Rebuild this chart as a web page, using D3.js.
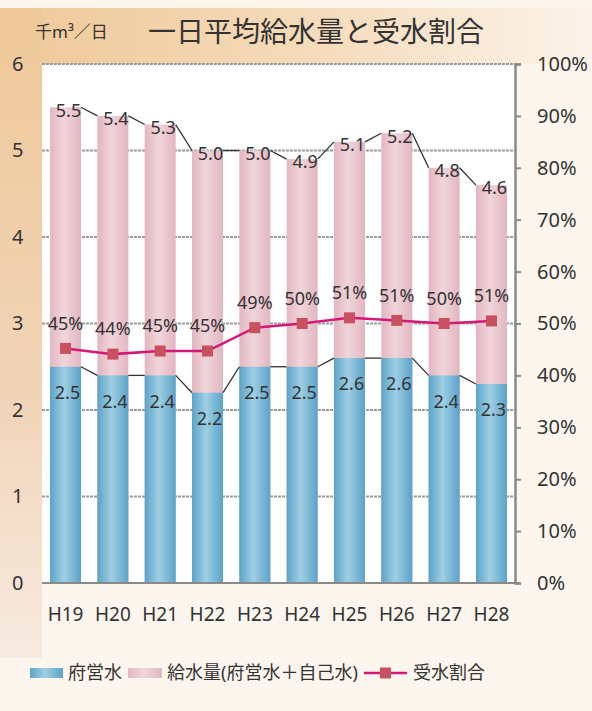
<!DOCTYPE html>
<html>
<head>
<meta charset="utf-8">
<script src="https://cdn.jsdelivr.net/npm/d3@7"></script>
<style>
  body { margin: 0; background: #fcf6ee; }
  text { font-family: 'Noto Sans', 'Noto Sans CJK JP', sans-serif; fill: #333; }
</style>
</head>
<body>
<div id="chart"></div>
<script>
const years = ['H19', 'H20', 'H21', 'H22', 'H23', 'H24', 'H25', 'H26', 'H27', 'H28']
const totalSupply = [5.5, 5.4, 5.3, 5.0, 5.0, 4.9, 5.1, 5.2, 4.8, 4.6]
const prefWater = [2.5, 2.4, 2.4, 2.2, 2.5, 2.5, 2.6, 2.6, 2.4, 2.3]
const ratio = [45.2, 44.1, 44.7, 44.7, 49.2, 50.0, 51.1, 50.6, 50.0, 50.5]
const leftTicks = [0, 1, 2, 3, 4, 5, 6]
const rightTicks = [0, 10, 20, 30, 40, 50, 60, 70, 80, 90, 100]

const W = 592
const H = 711
const margin = { top: 64, left: 42, right: 77, bottom: 128 }
const width = W - margin.left - margin.right
const height = H - margin.top - margin.bottom

const svg = d3
  .select('#chart')
  .append('svg')
  .attr('width', W)
  .attr('height', H)

const defs = svg.append('defs')

function hGrad(id, edge, mid) {
  const g = defs.append('linearGradient').attr('id', id)
    .attr('x1', 0).attr('x2', 1).attr('y1', 0).attr('y2', 0)
  g.append('stop').attr('offset', '0%').attr('stop-color', edge)
  g.append('stop').attr('offset', '45%').attr('stop-color', mid)
  g.append('stop').attr('offset', '100%').attr('stop-color', edge)
}
hGrad('blue', '#5ba3c9', '#9fcfe3')
hGrad('pink', '#e2b6c1', '#f1d5db')

const topBg = defs.append('linearGradient').attr('id', 'topbg')
  .attr('x1', 0).attr('x2', 1).attr('y1', 0).attr('y2', 0)
topBg.append('stop').attr('offset', '0%').attr('stop-color', '#efc898')
topBg.append('stop').attr('offset', '55%').attr('stop-color', '#f5dcbc')
topBg.append('stop').attr('offset', '100%').attr('stop-color', '#fcf3ea')

const leftBg = defs.append('linearGradient').attr('id', 'leftbg')
  .attr('x1', 0).attr('x2', 0).attr('y1', 0).attr('y2', 1)
leftBg.append('stop').attr('offset', '0%').attr('stop-color', '#efc898')
leftBg.append('stop').attr('offset', '60%').attr('stop-color', '#f1d4b8')
leftBg.append('stop').attr('offset', '100%').attr('stop-color', '#f7ebe0')

// background
svg.append('rect').attr('width', W).attr('height', H).attr('fill', '#fcf6ee')
svg.append('rect').attr('x', 0).attr('y', 8).attr('width', W).attr('height', 56).attr('fill', 'url(#topbg)')
svg.append('rect').attr('x', 0).attr('y', 8).attr('width', margin.left).attr('height', 650).attr('fill', 'url(#leftbg)')

// titles
svg.append('text').attr('x', 35).attr('y', 38).attr('font-size', 17)
  .attr('font-family', "'Noto Sans CJK JP', sans-serif").text('千m³／日')
svg.append('text').attr('x', 148).attr('y', 42).attr('font-size', 28)
  .attr('font-family', "'Noto Sans CJK JP', sans-serif").text('一日平均給水量と受水割合')

const g = svg.append('g')
  .attr('transform', 'translate(' + margin.left + ',' + margin.top + ')')

g.append('rect').attr('width', width).attr('height', height).attr('fill', '#fff')

const xPositionScale = d3.scaleBand().domain(years).range([0, width]).paddingInner(0.345).paddingOuter(0.17)
const yPositionScale = d3.scaleLinear().domain([0, 6]).range([height, 0])
const yRightScale = d3.scaleLinear().domain([0, 100]).range([height, 0])

// gridlines
g.selectAll('.grid')
  .data(leftTicks)
  .enter()
  .append('line')
  .attr('x1', 0)
  .attr('x2', width)
  .attr('y1', d => yPositionScale(d))
  .attr('y2', d => yPositionScale(d))
  .attr('stroke', '#9a9a9a')
  .attr('stroke-width', 2)
  .attr('stroke-dasharray', '3,1')

// bars
g.selectAll('.bar-total')
  .data(years)
  .enter()
  .append('rect')
  .attr('x', d => xPositionScale(d))
  .attr('width', xPositionScale.bandwidth())
  .attr('y', (d, i) => yPositionScale(totalSupply[i]))
  .attr('height', (d, i) => height - yPositionScale(totalSupply[i]))
  .attr('fill', 'url(#pink)')

g.selectAll('.bar-pref')
  .data(years)
  .enter()
  .append('rect')
  .attr('x', d => xPositionScale(d))
  .attr('width', xPositionScale.bandwidth())
  .attr('y', (d, i) => yPositionScale(prefWater[i]))
  .attr('height', (d, i) => height - yPositionScale(prefWater[i]))
  .attr('fill', 'url(#blue)')

// series lines between bar tops
function seriesLines(values) {
  const bw = xPositionScale.bandwidth()
  g.selectAll(null)
    .data(values.slice(0, -1))
    .enter()
    .append('line')
    .attr('x1', (d, i) => xPositionScale(years[i]) + bw)
    .attr('y1', d => yPositionScale(d))
    .attr('x2', (d, i) => xPositionScale(years[i + 1]))
    .attr('y2', (d, i) => yPositionScale(values[i + 1]))
    .attr('stroke', '#333')
    .attr('stroke-width', 1.3)
}
seriesLines(totalSupply)
seriesLines(prefWater)

// value labels
const cx = d => xPositionScale(d) + xPositionScale.bandwidth() / 2

g.selectAll('.lbl-total')
  .data(years)
  .enter()
  .append('text')
  .attr('x', d => cx(d) + 3)
  .attr('y', (d, i) => yPositionScale(totalSupply[i]) + 3)
  .attr('dy', '0.35em')
  .attr('text-anchor', 'middle')
  .attr('font-size', 18)
  .text((d, i) => totalSupply[i].toFixed(1))

g.selectAll('.lbl-pref')
  .data(years)
  .enter()
  .append('text')
  .attr('x', d => cx(d) + 2)
  .attr('y', (d, i) => yPositionScale(prefWater[i]) + 26)
  .attr('dy', '0.35em')
  .attr('text-anchor', 'middle')
  .attr('font-size', 18)
  .text((d, i) => prefWater[i].toFixed(1))

// ratio line
const line = d3
  .line()
  .x((d, i) => cx(years[i]))
  .y(d => yRightScale(d))

g.append('path')
  .datum(ratio)
  .attr('d', line)
  .attr('fill', 'none')
  .attr('stroke', '#d6177a')
  .attr('stroke-width', 2.5)

g.selectAll('.marker')
  .data(ratio)
  .enter()
  .append('rect')
  .attr('x', (d, i) => cx(years[i]) - 5.5)
  .attr('y', d => yRightScale(d) - 5.5)
  .attr('width', 11)
  .attr('height', 11)
  .attr('fill', '#c8505f')

g.selectAll('.lbl-ratio')
  .data(ratio)
  .enter()
  .append('text')
  .attr('x', (d, i) => cx(years[i]))
  .attr('y', d => yRightScale(d) - 25)
  .attr('dy', '0.35em')
  .attr('text-anchor', 'middle')
  .attr('font-size', 18)
  .text(d => Math.round(d) + '%')

// bottom line
g.append('line')
  .attr('x1', 0).attr('x2', width + 4)
  .attr('y1', height).attr('y2', height)
  .attr('stroke', '#8a8a8a').attr('stroke-width', 2)

// right axis
const yAxisRight = d3.axisRight(yRightScale)
  .tickValues(rightTicks)
  .tickSize(6)
  .tickFormat(d => d + '%')
const ra = g.append('g')
  .attr('class', 'axis y-axis-right')
  .attr('transform', 'translate(' + width + ',0)')
  .call(yAxisRight)
ra.select('.domain').attr('stroke', '#8a8a8a').attr('stroke-width', 2.5)
ra.selectAll('.tick line').attr('stroke', '#8a8a8a').attr('stroke-width', 2)
ra.selectAll('.tick text')
  .attr('x', 22)
  .attr('font-size', 20)
  .attr('font-family', "'Noto Sans', sans-serif")
  .attr('fill', '#333')

// left axis labels
const yAxisLeft = d3.axisLeft(yPositionScale)
  .tickValues(leftTicks)
  .tickSize(0)
  .tickFormat(d3.format('d'))
const la = g.append('g')
  .attr('class', 'axis y-axis-left')
  .call(yAxisLeft)
la.select('.domain').remove()
la.selectAll('.tick text')
  .attr('x', -30)
  .attr('text-anchor', 'start')
  .attr('font-size', 20)
  .attr('font-family', "'Noto Sans', sans-serif")
  .attr('fill', '#333')

// x axis labels
const xAxis = d3.axisBottom(xPositionScale).tickSize(0)
const xa = g.append('g')
  .attr('class', 'axis x-axis')
  .attr('transform', 'translate(0,' + height + ')')
  .call(xAxis)
xa.select('.domain').remove()
xa.selectAll('.tick text')
  .attr('y', 25)
  .attr('font-size', 19)
  .attr('font-family', "'Noto Sans', sans-serif")
  .attr('fill', '#333')

// legend
const legend = svg.append('g').attr('transform', 'translate(0,673)')
legend.append('rect').attr('x', 30).attr('y', -5).attr('width', 33).attr('height', 10).attr('fill', 'url(#blue)')
legend.append('text').attr('x', 68).attr('dy', '0.35em').attr('font-size', 18)
  .attr('font-family', "'Noto Sans CJK JP', sans-serif").text('府営水')
legend.append('rect').attr('x', 128).attr('y', -5).attr('width', 34).attr('height', 10).attr('fill', 'url(#pink)')
legend.append('text').attr('x', 167).attr('dy', '0.35em').attr('font-size', 18)
  .attr('font-family', "'Noto Sans CJK JP', sans-serif").text('給水量(府営水＋自己水)')
legend.append('line').attr('x1', 364).attr('x2', 407).attr('y1', 0).attr('y2', 0)
  .attr('stroke', '#d6177a').attr('stroke-width', 2.5)
legend.append('rect').attr('x', 380).attr('y', -5.5).attr('width', 11).attr('height', 11).attr('fill', '#c8505f')
legend.append('text').attr('x', 413).attr('dy', '0.35em').attr('font-size', 18)
  .attr('font-family', "'Noto Sans CJK JP', sans-serif").text('受水割合')
</script>
</body>
</html>
